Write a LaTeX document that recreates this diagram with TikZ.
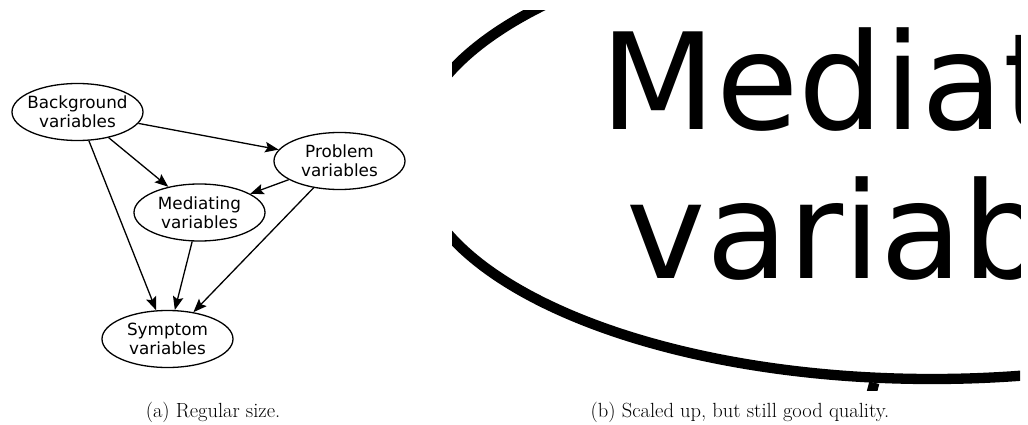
\documentclass[tikz,border=0pt]{standalone}
\usepackage{fontspec}
\newfontfamily\dejavu{DejaVu Sans}
\usetikzlibrary{shapes.geometric,arrows.meta}
\begin{document}
\begin{tikzpicture}[x=1pt,y=-1pt,
  var/.style={ellipse, draw, line width=1.3pt, inner xsep=-4pt, inner ysep=0pt,
    minimum width=131pt, minimum height=57pt, align=center,
    font=\dejavu\fontsize{16.8}{19}\selectfont},
  edge/.style={line width=1.3pt, -{Stealth[length=13.5pt,width=10.5pt,inset=2.5pt]}},
  captext/.style={font=\fontsize{20.5}{24}\selectfont\addfontfeatures{LetterSpace=3.5},
    anchor=base, inner sep=0pt}]
\useasboundingbox (0,0) rectangle (1028,425);
% (a) regular size
\node[var] (bg)  at (77.5,112)  {Background\\variables};
\node[var] (pr)  at (339.5,161) {Problem\\variables};
\node[var] (med) at (199.5,212.5) {Mediating\\variables};
\node[var] (sym) at (167.5,339) {Symptom\\variables};
\draw[edge] (bg) -- (pr);
\draw[edge] (bg) -- (med);
\draw[edge] (bg) -- (sym);
\draw[edge] (pr) -- (med);
\draw[edge] (pr) -- (sym);
\draw[edge] (med) -- (sym);
% (b) scaled up
\begin{scope}
  \clip (452,11) rectangle (1020,390);
  \node[var, line width=10.3pt, inner xsep=-31pt, minimum width=1035pt,
    minimum height=450pt, font=\dejavu\fontsize{134}{149}\selectfont]
    (zmed) at (932,154) {Mediating\\variables};
  \coordinate (zsym) at (679,1156);
  \draw[line width=10.3pt] (zmed) -- (zsym);
\end{scope}
% captions
\node[captext] (capa) at (213,417) {(a) Regular size.};
\node[captext] (capb) at (740,417) {(b) Scaled up, but still good quality.};
\end{tikzpicture}
\end{document}
